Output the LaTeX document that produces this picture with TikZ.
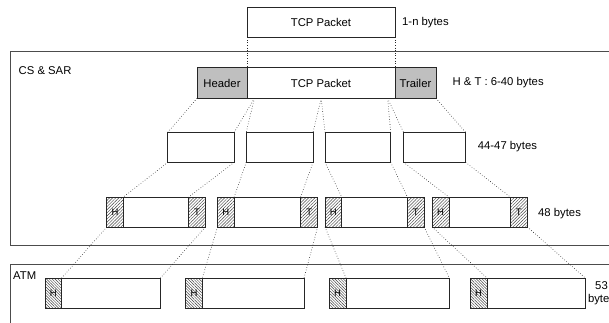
\documentclass[tikz,border=0pt]{standalone}
\usepackage{fontspec}
\setmainfont{Liberation Sans}
\usetikzlibrary{patterns.meta}
\tikzset{
  box/.style={draw=black!85, line width=0.7pt, fill=white, inner sep=0pt, outer sep=0pt, anchor=north west},
  greybox/.style={box, fill=black!25},
  hatch/.style={box, pattern={Lines[angle=45,distance=2.2pt,line width=0.45pt]}, pattern color=black!75, font=\fontsize{9.5}{11}\selectfont},
  hatchb/.style={box, pattern={Lines[angle=-45,distance=2pt,line width=0.45pt]}, pattern color=black!75, font=\fontsize{9.5}{11}\selectfont},
  frame/.style={draw=black!70, line width=0.7pt},
  dots/.style={dotted, line width=0.6pt, black!85},
  lbl/.style={anchor=west, inner sep=0pt, font=\fontsize{11.3}{13.6}\selectfont},
  txt/.style={font=\fontsize{11.3}{13.6}\selectfont}
}
\begin{document}
\begin{tikzpicture}[x=1pt,y=-1pt]
\useasboundingbox (0,0) rectangle (609,323);
% frames
\draw[frame] (10.5,51) rectangle (640,245.7);
\draw[frame] (10.5,264.3) rectangle (640,340);
\node[lbl] (cslbl) at (18.5,70.5) {CS \& SAR};
\node[lbl] (atmlbl) at (13,276) {ATM};

% top TCP packet
\node[box, minimum width=148pt, minimum height=30pt, txt] (tcp0) at (247,7.3) {TCP Packet};
\node[lbl] (l1) at (402,22.3) {1-n bytes};

% CS row
\node[greybox, minimum width=50pt, minimum height=30.6pt, txt] (hdr) at (197,67.7) {Header};
\node[box, minimum width=148pt, minimum height=30.6pt, txt] (tcp1) at (247,67.7) {TCP Packet};
\node[greybox, minimum width=41pt, minimum height=30.6pt, txt] (trl) at (395,67.7) {Trailer};
\node[lbl] (l2) at (452.4,83) {H \& T : 6-40 bytes};
\coordinate (s1) at (254.4,98.3);
\coordinate (s2) at (321.2,98.3);
\coordinate (s3) at (387.6,98.3);

% middle boxes
\node[box, minimum width=66.4pt, minimum height=30pt] (m1) at (167.8,132.3) {};
\node[box, minimum width=66.8pt, minimum height=30pt] (m2) at (246.2,132.3) {};
\node[box, minimum width=65.7pt, minimum height=30pt] (m3) at (325,132.3) {};
\node[box, minimum width=62.1pt, minimum height=30pt] (m4) at (403.5,132.3) {};
\node[lbl] (l3) at (477.7,147) {44-47 bytes};

% 48-byte cells
\foreach \i/\xh/\xb/\xt/\xe in {1/106.8/123.5/188.7/205.4, 2/217.5/234.2/300.6/317.7, 3/325/341.7/407.4/424.1, 4/432.2/448.9/510.3/527.4}{
  \pgfmathsetmacro{\wh}{\xb-\xh}
  \pgfmathsetmacro{\wb}{\xt-\xb}
  \pgfmathsetmacro{\wt}{\xe-\xt}
  \node[hatch, minimum width=\wh pt, minimum height=30pt] (ch\i) at (\xh,197) {H};
  \node[box, minimum width=\wb pt, minimum height=30pt] (cb\i) at (\xb,197) {};
  \node[hatch, minimum width=\wt pt, minimum height=30pt] (ct\i) at (\xt,197) {T};
}
\node[lbl] (l4) at (538,213.3) {48 bytes};

% ATM cells
\foreach \i/\xh/\xb/\xe in {1/45/61.7/160.4, 2/185.6/202.3/304, 3/329.3/346/449.3, 4/470.3/487/585.2}{
  \pgfmathsetmacro{\wh}{\xb-\xh}
  \pgfmathsetmacro{\wb}{\xe-\xb}
  \node[hatchb, minimum width=\wh pt, minimum height=30pt] (ah\i) at (\xh,278) {H};
  \node[box, minimum width=\wb pt, minimum height=30pt] (ab\i) at (\xb,278) {};
}
\node[txt, align=center, inner sep=0pt] (l5) at (601.5,293.3) {53\\bytes};

% dotted connectors
\draw[dots] (tcp0.south west) -- (tcp1.north west);
\draw[dots] (tcp0.south east) -- (tcp1.north east);
\draw[dots] (hdr.south west) -- (m1.north west);
\draw[dots] (s1) -- (m1.north east);
\draw[dots] (s1) -- (m2.north west);
\draw[dots] (s2) -- (m2.north east);
\draw[dots] (s2) -- (m3.north west);
\draw[dots] (s3) -- (m3.north east);
\draw[dots] (s3) -- (m4.north west);
\draw[dots] (trl.south east) -- (m4.north east);
\foreach \i in {1,2,3,4}{
  \draw[dots] (m\i.south west) -- (cb\i.north west);
  \draw[dots] (m\i.south east) -- (ct\i.north west);
  \draw[dots] (ch\i.south west) -- (ab\i.north west);
  \draw[dots] (ct\i.south east) -- (ab\i.north east);
}
\end{tikzpicture}
\end{document}
